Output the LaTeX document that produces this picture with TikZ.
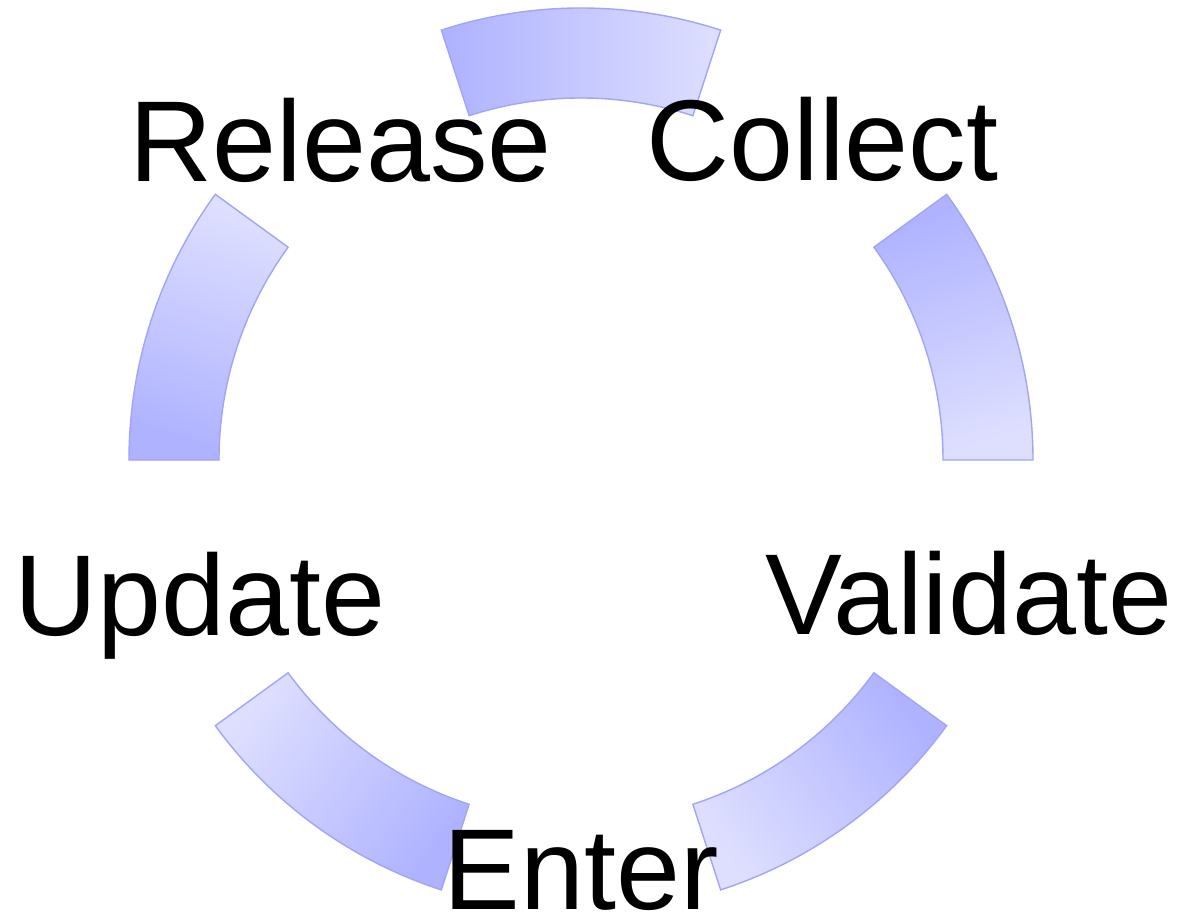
\documentclass[tikz,border=0pt]{standalone}
\usepackage{fontspec}
\setmainfont{Liberation Sans}
\usetikzlibrary{positioning}
\definecolor{segdark}{RGB}{174,178,255}
\definecolor{seglight}{RGB}{222,223,255}
\definecolor{segline}{RGB}{162,164,244}
\tikzset{C seg/.style={draw=segline,line width=1.4pt,bottom color=seglight,top color=segdark},
	C label/.style={inner sep=0pt,text height=82pt,text depth=0pt,font=\fontsize{115pt}{138pt}\selectfont},}

\begin{document}
\begin{tikzpicture}[x=1pt,y=1pt]
	\useasboundingbox (-581,-458) rectangle (596,460);

	% arc pieces of the cycle
	\foreach \s in {72,0,288,216,144}
		\shade[C seg,shading angle=\s+18]
			(\s:452) arc[start angle=\s,end angle=\s+36,radius=452pt]
			-- (\s+36:362) arc[start angle=\s+36,end angle=\s,radius=362pt] -- cycle;

	\node[C label] (collect) at (53:401) {Collect};
	\node[C label] (validate) at (-19:410) {Validate};
	\node[C label] (enter) at (-90:408) {Enter};
	\node[C label] (update) at (199.4:404) {Update};
	\node[C label] (release) at (126.9:400) {Release};
\end{tikzpicture}
\end{document}
